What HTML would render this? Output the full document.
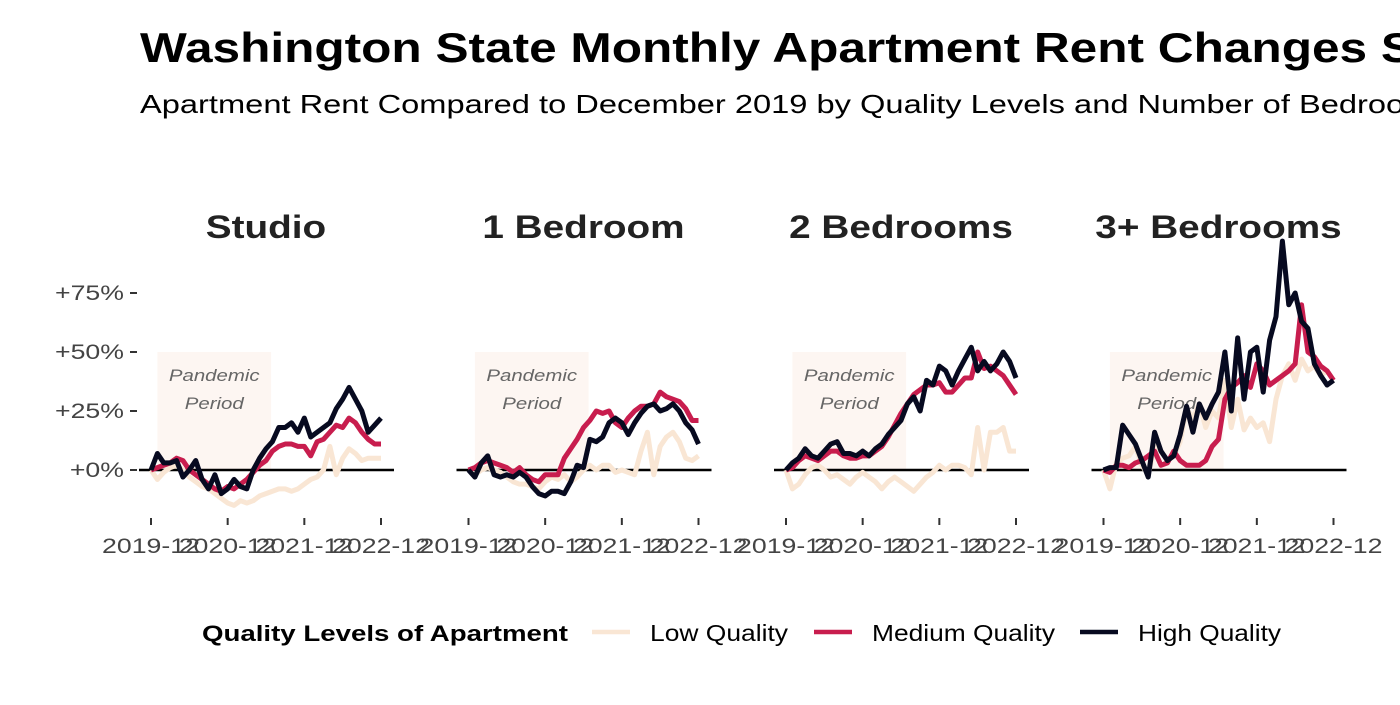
<!DOCTYPE html>
<html><head><meta charset="utf-8"><style>
body{margin:0;background:#fff;width:1400px;height:700px;overflow:hidden;font-family:"Liberation Sans",sans-serif}
</style></head><body>
<svg id="c" width="1400" height="700" xmlns="http://www.w3.org/2000/svg" font-family="Liberation Sans, sans-serif">
<text class="sc" data-f="1.18" x="140" y="62" font-size="42" font-weight="bold" fill="#000">Washington State Monthly Apartment Rent Changes Since the Pandemic</text>
<text class="sc" data-f="1.255" x="140" y="113" font-size="26" fill="#000">Apartment Rent Compared to December 2019 by Quality Levels and Number of Bedrooms</text>
<g id="plots"></g>
<g>
<text class="sc" data-w="366" x="202" y="641" font-size="22" font-weight="bold" fill="#000">Quality Levels of Apartment</text>
<line x1="592" y1="632" x2="630" y2="632" stroke="#f9e6d4" stroke-width="4.5"/>
<text class="sc" data-w="138" x="650" y="641" font-size="23" fill="#000">Low Quality</text>
<line x1="814" y1="632" x2="852" y2="632" stroke="#c81d4e" stroke-width="4.5"/>
<text class="sc" data-w="183" x="872" y="641" font-size="23" fill="#000">Medium Quality</text>
<line x1="1080" y1="632" x2="1118" y2="632" stroke="#070a20" stroke-width="4.5"/>
<text class="sc" data-w="143" x="1138" y="641" font-size="23" fill="#000">High Quality</text>
</g>
</svg>
<script>
const panels = ["Studio","1 Bedroom","2 Bedrooms","3+ Bedrooms"];
const yTicks = [0,25,50,75];
const yTickLabels = ["+0%","+25%","+50%","+75%"];
const xTickLabels = ["2019-12","2020-12","2021-12","2022-12"];
const lowQ = [
[0,-4,-1,1,2,0,-3,-5,-7,-8,-10,-12,-14,-15,-13,-14,-13,-11,-10,-9,-8,-8,-9,-8,-6,-4,-3,0,10,-2,5,9,7,4,5,5,5],
[0,-2,0,1,0,-1,-3,-5,-6,-6,-7,-8,-5,-3,-4,-2,-5,-3,0,2,0,2,2,-1,0,-1,-2,8,16,-2,10,14,16,12,5,4,6],
[0,-8,-6,-2,1,2,0,-3,-2,-4,-6,-3,-1,-3,-5,-8,-5,-3,-5,-7,-9,-6,-3,-1,2,0,2,2,1,-2,18,0,16,16,18,8,8],
[0,-8,3,5,6,10,2,-2,10,8,4,6,12,26,22,28,18,25,22,38,18,30,17,22,18,20,12,30,40,45,38,47,42,44,40,42,38]];
const medQ = [
[0,1,2,3,5,4,0,-2,-4,-6,-8,-9,-7,-8,-6,-4,-1,2,4,8,10,11,11,10,10,6,12,13,16,19,18,22,20,16,13,11,11],
[0,1,3,4,3,2,1,-1,1,-2,-4,-5,-2,-2,-2,5,9,13,18,21,25,24,25,20,18,22,25,27,27,28,33,31,30,29,26,21,21],
[0,1,4,6,5,4,6,8,8,6,5,5,6,6,8,10,14,19,24,28,32,34,36,36,37,33,33,36,39,39,50,43,44,42,40,36,32],
[0,-1,2,2,1,3,4,6,8,2,3,8,4,2,2,2,4,10,13,30,35,37,40,35,45,42,36,38,40,42,45,70,50,48,44,42,38]];
const highQ = [
[0,7,3,3,4,-3,0,4,-4,-8,-2,-10,-8,-4,-7,-8,0,5,9,12,18,18,20,16,22,14,16,18,20,26,30,35,30,25,16,19,22],
[0,-3,3,6,-2,-3,-2,-3,-1,-3,-7,-10,-11,-9,-9,-10,-5,2,1,13,12,14,20,22,20,15,20,24,27,28,25,26,28,25,20,17,11],
[0,3,5,9,6,5,8,11,12,7,7,6,8,6,9,11,15,18,21,28,31,25,38,36,44,42,36,42,47,52,42,46,42,45,50,46,39],
[0,1,1,19,15,11,4,-3,16,8,4,6,15,27,16,28,22,28,33,50,25,56,30,50,52,33,55,65,97,70,75,63,60,45,40,36,38]];
const NS="http://www.w3.org/2000/svg";
const g=document.getElementById('plots');
function mk(t,a){const e=document.createElementNS(NS,t);for(const k in a)e.setAttribute(k,a[k]);g.appendChild(e);return e;}
const y=v=>470-v*59/25;
panels.forEach((name,p)=>{
  const x0=151+p*317.5, x=m=>x0+m*230/36;
  let r=mk('rect',{x:x(1),y:y(50),width:x(18.8)-x(1),height:y(0)-y(50),fill:'#fdf6f2'});
  
  
  let t1=mk('text',{x:(x(1)+x(18.8))/2,y:y(50)+29,'font-size':17,'font-style':'italic',fill:'#666','text-anchor':'middle',class:'sc','data-f':'1.2'});t1.textContent='Pandemic';
  
  
  let t2=mk('text',{x:(x(1)+x(18.8))/2,y:y(50)+57,'font-size':17,'font-style':'italic',fill:'#666','text-anchor':'middle',class:'sc','data-f':'1.2'});t2.textContent='Period';
  
  
  let zl=mk('line',{x1:x0-12,x2:x0+243,y1:y(0),y2:y(0),stroke:'#000','stroke-width':2.5});
  
  
  let ft=mk('text',{x:x0+115,y:238,'font-size':32,'font-weight':'bold',fill:'#222','text-anchor':'middle',class:'sc','data-f':'1.21'});ft.textContent=name;
  
  
  xTickLabels.forEach((l,i)=>{
    const xx=x(i*12);
    let tk=mk('line',{x1:xx,x2:xx,y1:518,y2:525,stroke:'#333','stroke-width':2});
    
    
    let tl=mk('text',{x:xx,y:553,'font-size':21,fill:'#444','text-anchor':'middle',class:'sc','data-f':'1.27'});tl.textContent=l;
    
    
  });
  [[lowQ,'#f9e6d4','low-quality-line'],[medQ,'#c81d4e','medium-quality-line'],[highQ,'#070a20','high-quality-line']].forEach(([d,c,n])=>{
    let pl=mk('polyline',{points:d[p].map((v,i)=>x(i)+','+y(v)).join(' '),fill:'none',stroke:c,'stroke-width':5,'stroke-linejoin':'round'});
    
    
  });
});
yTicks.forEach((v,i)=>{
  let tk=mk('line',{x1:130,x2:137,y1:y(v),y2:y(v),stroke:'#333','stroke-width':2});
  
  
  let tl=mk('text',{x:124,y:y(v)+7,'font-size':21,fill:'#444','text-anchor':'end',class:'sc','data-f':'1.27'});tl.textContent=yTickLabels[i];
  
  
});
document.querySelectorAll('.sc').forEach(e=>{
  const w=e.getComputedTextLength();
  const target=e.dataset.w?+e.dataset.w:w*(+e.dataset.f);
  e.setAttribute('textLength',target);
  e.setAttribute('lengthAdjust','spacingAndGlyphs');
});
</script>
</body></html>
